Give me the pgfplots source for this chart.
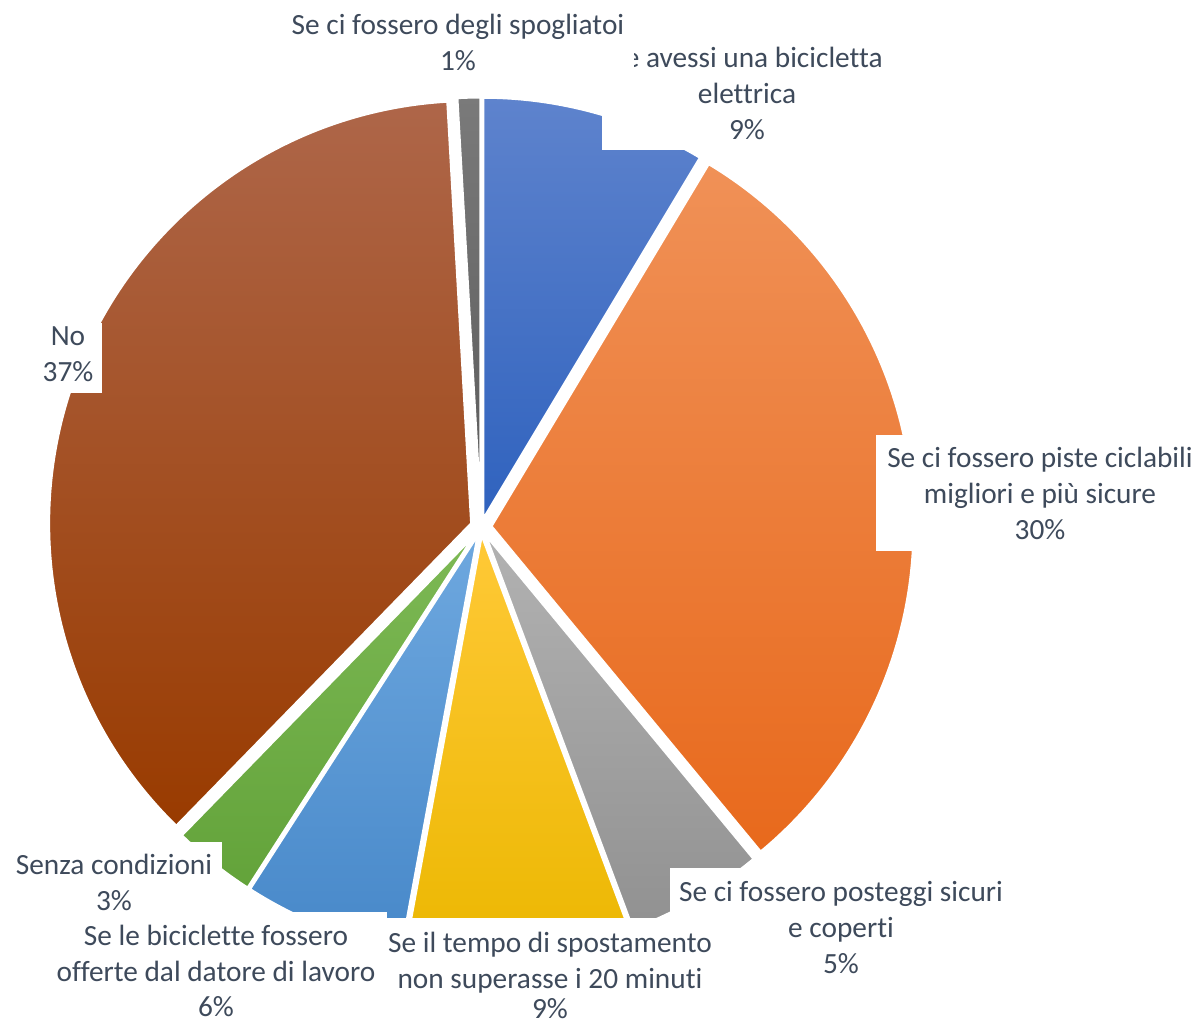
\documentclass[border=0pt]{standalone}
\usepackage{pgfplots}
\pgfplotsset{compat=1.18}
\usepackage{pgfplotstable}
\usepackage{fontspec}
\setmainfont{Carlito}[Ligatures={NoCommon}]

\definecolor{txt}{HTML}{3E4A5B}
\definecolor{t0}{HTML}{5E83CD}\definecolor{b0}{HTML}{2F62BE}
\definecolor{t1}{HTML}{F09157}\definecolor{b1}{HTML}{E8691C}
\definecolor{t2}{HTML}{B2B2B2}\definecolor{b2}{HTML}{919191}
\definecolor{t3}{HTML}{FFC937}\definecolor{b3}{HTML}{EBB700}
\definecolor{t4}{HTML}{6EA8DF}\definecolor{b4}{HTML}{4788C9}
\definecolor{t5}{HTML}{7DB955}\definecolor{b5}{HTML}{63A33A}
\definecolor{t6}{HTML}{AE6649}\definecolor{b6}{HTML}{993B00}
\definecolor{t7}{HTML}{7A7A7A}\definecolor{b7}{HTML}{5A5A5A}

% share (%) and explosion (px) of each slice, clockwise from 12 o'clock
\pgfplotstableread{
value explode
8.6   7
30.4  10
5.3   7
8.6   7
6.2   7
3.2   7
36.8  10
0.9   7
}\piedata

\newcommand{\lblfont}{\fontsize{14.66}{18}\selectfont}
\tikzset{lbl/.style={anchor=base, inner sep=0pt, font=\lblfont, text=txt}}

\begin{document}
\begin{tikzpicture}
\begin{axis}[
  width=600pt, height=512.5pt, scale only axis,
  xmin=0, xmax=1200, ymin=0, ymax=1025, y dir=reverse,
  hide axis, clip=false]
\path (axis cs:0,0) rectangle (axis cs:1200,1025);
\def\cum{0}
\pgfplotsforeachungrouped \i in {0,...,7}{%
  \pgfplotstablegetelem{\i}{value}\of\piedata \let\v\pgfplotsretval
  \pgfplotstablegetelem{\i}{explode}\of\piedata \let\ex\pgfplotsretval
  \pgfmathsetmacro{\aS}{90-3.6*\cum}%
  \pgfmathsetmacro{\aE}{90-3.6*(\cum+\v)}%
  \pgfmathsetmacro{\aM}{(\aS+\aE)/2}%
  \pgfmathsetmacro{\cx}{481+\ex*cos(\aM)}%
  \pgfmathsetmacro{\cy}{527-\ex*sin(\aM)}%
  \edef\temp{\noexpand\path[top color=t\i, bottom color=b\i, draw=white, line width=1.5pt, line join=round]
    (axis cs:\cx,\cy) -- ++(\aS:211.5pt) arc[start angle=\aS, end angle=\aE, radius=211.5pt] -- cycle;}%
  \temp
  \pgfmathsetmacro{\cum}{\cum+\v}%
}
% label backgrounds
\fill[white] (axis cs:876,435) rectangle (axis cs:1200,551);
\fill[white] (axis cs:670,868) rectangle (axis cs:1012,986);
\fill[white] (axis cs:378,918) rectangle (axis cs:723,1025);
\fill[white] (axis cs:46,912) rectangle (axis cs:387,1025);
\fill[white] (axis cs:6,842) rectangle (axis cs:222,923);
\fill[white] (axis cs:34,323) rectangle (axis cs:102,393);
\fill[white] (axis cs:602,35) rectangle (axis cs:893,150);
\node[lbl] at (axis cs:747,67) {Se avessi una bicicletta};
\node[lbl] at (axis cs:747,103) {elettrica};
\node[lbl] at (axis cs:747,139) {9\%};
\fill[white] (axis cs:282,2) rectangle (axis cs:634,83);
\node[lbl] at (axis cs:458,34) {Se ci fossero degli spogliatoi};
\node[lbl] at (axis cs:458,70) {1\%};
\node[lbl] at (axis cs:1040,467) {Se ci fossero piste ciclabili};
\node[lbl] at (axis cs:1040,503) {migliori e più sicure};
\node[lbl] at (axis cs:1040,539) {30\%};
\node[lbl] at (axis cs:841,901) {Se ci fossero posteggi sicuri};
\node[lbl] at (axis cs:841,937) {e coperti};
\node[lbl] at (axis cs:841,973) {5\%};
\node[lbl] at (axis cs:550,952) {Se il tempo di spostamento};
\node[lbl] at (axis cs:550,988) {non superasse i 20 minuti};
\node[lbl] at (axis cs:550,1018) {9\%};
\node[lbl] at (axis cs:216,945) {Se le biciclette fossero};
\node[lbl] at (axis cs:216,981) {offerte dal datore di lavoro};
\node[lbl] at (axis cs:216,1016) {6\%};
\node[lbl] at (axis cs:114,874) {Senza condizioni};
\node[lbl] at (axis cs:114,910) {3\%};
\node[lbl] at (axis cs:68,345) {No};
\node[lbl] at (axis cs:68,381) {37\%};
\end{axis}
\end{tikzpicture}
\end{document}
